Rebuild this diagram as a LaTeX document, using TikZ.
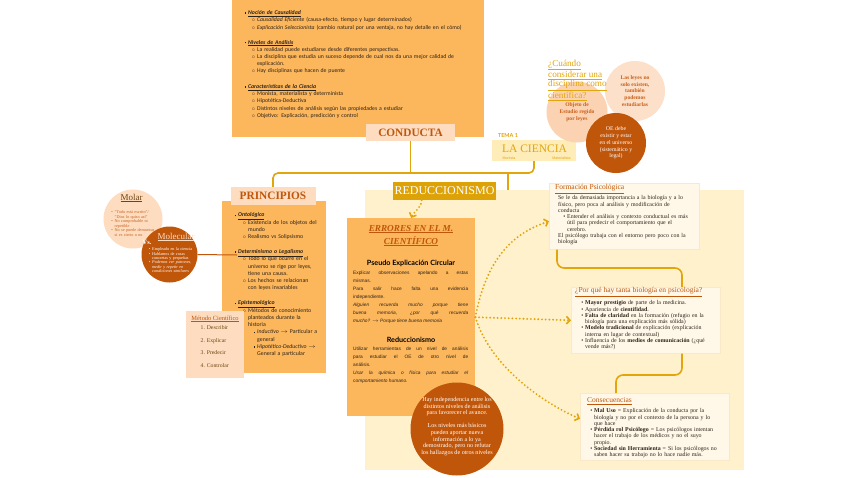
\documentclass[tikz,border=0pt]{standalone}
\usepackage{fontspec}
\setmainfont{Liberation Serif}
\newfontfamily\carl{Carlito}
\newfontfamily\lsans{Liberation Sans}
\newfontfamily\latof{Lato}
\usetikzlibrary{arrows.meta}
\setlength{\parindent}{0pt}
\definecolor{boxor}{RGB}{252,182,92}
\definecolor{peach}{RGB}{253,220,192}
\definecolor{dkor}{RGB}{192,86,10}
\definecolor{palebg}{RGB}{255,241,203}
\definecolor{cream}{RGB}{255,248,233}
\definecolor{creamedge}{RGB}{250,232,200}
\definecolor{gold}{RGB}{226,165,12}
\definecolor{goldfill}{RGB}{221,162,7}
\definecolor{cienfill}{RGB}{254,236,185}
\definecolor{peachA}{RGB}{252,211,178}
\definecolor{peachB}{RGB}{253,224,201}
\definecolor{circtxt}{RGB}{200,96,26}
\definecolor{brownt}{RGB}{110,68,16}
\definecolor{dtext}{RGB}{45,35,25}
\newcommand\itm[3]{\par\leftskip=#1\relax\noindent\llap{#2\hspace{1.8pt}}#3\par}
\newcommand\sqb{\rule[0.6pt]{1.6pt}{1.6pt}}
\newcommand\cirb{$\scriptscriptstyle\circ$}
\newcommand\jl[1]{\makebox[115pt][s]{#1}}
\begin{document}
\begin{tikzpicture}[x=1pt,y=-1pt,
  gline/.style={draw=gold,line width=1.6pt},
  darrow/.style={draw=gold,line width=2.1pt,line cap=round,dash pattern=on 0pt off 3.7pt,-{Straight Barb[length=3.5pt,width=7.5pt,line width=1.6pt]}},
  tagbox/.style={fill=peach,inner sep=0pt,text=dkor,font=\bfseries\fontsize{11.3}{12}\selectfont},
  txt/.style={inner sep=0pt,anchor=north west,align=left},
  panel/.style={inner sep=0pt,anchor=north west},
  creambox/.style={panel,fill=cream,draw=creamedge,line width=0.6pt},
  rtitle/.style={inner sep=0pt,anchor=west,text=dkor,font=\fontsize{7.5}{8}\selectfont},
  rbody/.style={txt,text width=150pt,text=dtext,font=\fontsize{5.9}{6.25}\selectfont},
]
\path[use as bounding box] (0,0) rectangle (848,477);
\fill[white] (0,0) rectangle (848,477);

% ---- top box
\node[panel,fill=boxor,minimum width=252pt,minimum height=137pt] (topbox) at (232,0) {};
\node[txt,text width=240pt,font=\carl\fontsize{5.75}{7.2}\selectfont,text=dtext] (toptext) at (240,7.2) {%
\itm{8pt}{\sqb}{\textbf{\textit{\underline{Noción de Causalidad}}}}
\itm{17pt}{\cirb}{\textit{Causalidad Eficiente} (causa-efecto, tiempo y lugar determinados)}
\itm{17pt}{\cirb}{\textit{Explicación Seleccionista} (cambio natural por una ventaja, no hay detalle en el cómo)}
\vspace{7.8pt}
\itm{8pt}{\sqb}{\textbf{\textit{\underline{Niveles de Análisis}}}}
\itm{17pt}{\cirb}{La realidad puede estudiarse desde diferentes perspectivas.}
\itm{17pt}{\cirb}{La disciplina que estudia un suceso depende de cual nos da una mejor calidad de\\explicación.}
\itm{17pt}{\cirb}{Hay disciplinas que hacen de puente}
\vspace{8.5pt}
\itm{8pt}{\sqb}{\textbf{\textit{\underline{Características de la Ciencia}}}}
\itm{17pt}{\cirb}{Monista, materialista y determinista}
\itm{17pt}{\cirb}{Hipotética-Deductiva}
\itm{17pt}{\cirb}{Distintos niveles de análisis según las propiedades a estudiar}
\itm{17pt}{\cirb}{Objetivo: Explicación, predicción y control}};

% ---- pale background
\node[panel,fill=palebg,minimum width=379pt,minimum height=280pt] (palebg) at (365,190) {};

% ---- principios box
\node[panel,fill=boxor,minimum width=104pt,minimum height=172pt] (princbox) at (222,201) {};
\node[txt,text width=100pt,font=\carl\fontsize{5.8}{7.3}\selectfont,text=dtext] (princtext) at (226,209.2) {%
\itm{12pt}{\sqb}{\textbf{\textit{\underline{Ontológico}}}}
\itm{22pt}{\cirb}{Existencia de los objetos del\\mundo}
\itm{22pt}{\cirb}{Realismo vs Solipsismo}
\vspace{7.5pt}
\itm{12pt}{\sqb}{\textbf{\textit{\underline{Determinismo o Legalismo}}}}
\itm{22pt}{\cirb}{Todo lo que ocurre en el\\universo se rige por leyes,\\tiene una causa.}
\itm{22pt}{\cirb}{Los hechos se relacionan\\con leyes invariables}
\vspace{7.5pt}
\itm{12pt}{\sqb}{\textbf{\textit{\underline{Epistemológico}}}}
\itm{22pt}{\cirb}{Métodos de conocimiento\\planteados durante la\\historia}
\itm{31pt}{\sqb}{\textit{Inductivo} $\rightarrow$ Particular a\\general}
\itm{31pt}{\sqb}{\textit{Hipotético-Deductivo} $\rightarrow$\\General a particular}};

% ---- metodo cientifico
\node[panel,fill=peach,minimum width=58pt,minimum height=67pt] (metodo) at (186,311) {};
\node[inner sep=0,text=dkor,font=\fontsize{6.4}{7}\selectfont] (mettitle) at (215,319) {\underline{Método Científico}};
\node[txt,text=brownt,font=\fontsize{5.7}{12.6}\selectfont] (metitems) at (200.5,325.5) {1. Describir\\2. Explicar\\3. Predecir\\4. Controlar};

% ---- labels
\node[tagbox,minimum width=89pt,minimum height=17pt] (conducta) at (410.5,132.5) {CONDUCTA};
\node[fill=cienfill,inner sep=0,minimum width=84pt,minimum height=21pt] (ciencia) at (534,150.5) {};
\node[inner sep=0,text=gold,font=\fontsize{11.5}{12}\selectfont] (cientxt) at (534.5,149) {LA CIENCIA};
\node[inner sep=0,text=gold,font=\latof\bfseries\fontsize{5.5}{6}\selectfont] (tema) at (508,136) {TEMA 1};
\node[inner sep=0,text=gold,font=\lsans\fontsize{3.6}{4}\selectfont] (monista) at (509,158) {Monista};
\node[inner sep=0,text=gold,font=\lsans\fontsize{3.6}{4}\selectfont] (materialista) at (561.5,158) {Materialista};
\node[tagbox,minimum width=85pt,minimum height=18pt] (principios) at (273,196) {PRINCIPIOS};
\node[fill=goldfill,inner sep=0,minimum width=103pt,minimum height=18pt,text=white,font=\fontsize{12}{12}\selectfont] (reduc) at (444.5,191) {REDUCCIONISMO};

% ---- gold connectors
\coordinate (jL) at (273,173);
\coordinate (jR) at (534,173);
\coordinate (jM) at (508,173);
\coordinate (jC) at (410.5,173);
\draw[gline] (conducta.south) -- (jC);
\draw[gline,rounded corners=5pt] (ciencia.south) -- (jR) -- (jL) -- (principios.north);
\draw[gline] (jM) -- (jM |- palebg.north);

% ---- right cream boxes
\node[creambox,minimum width=150pt,minimum height=66pt] (form) at (549,183) {};
\node[rtitle] (formT) at (555,189) {\underline{Formación Psicológica}};
\node[rbody] (formB) at (558,195.5) {%
Se le da demasiada importancia a la biología y a lo\\físico, pero poca al análisis y modificación de\\conducta
\itm{9pt}{\textbullet}{Entender el análisis y contexto conductual es más\\útil para predecir el comportamiento que el\\cerebro.}
\leftskip=0pt\relax El psicólogo trabaja con el entorno pero poco con la\\biología};

\node[creambox,minimum width=149pt,minimum height=66pt] (porq) at (571,287) {};
\node[rtitle] (porqT) at (575,292) {\underline{¿Por qué hay tanta biología en psicología?}};
\node[rbody] (porqB) at (575,298.5) {%
\itm{10pt}{\textbullet}{\textbf{Mayor prestigio} de parte de la medicina.}
\itm{10pt}{\textbullet}{Apariencia de \textbf{cientifidad}.}
\itm{10pt}{\textbullet}{\textbf{Falta de claridad} en la formación (refugio en la\\biología para una explicación más sólida)}
\itm{10pt}{\textbullet}{\textbf{Modelo tradicional} de explicación (explicación\\interna en lugar de contextual)}
\itm{10pt}{\textbullet}{Influencia de los \textbf{medios de comunicación} (¿qué\\vende más?)}};

\node[creambox,minimum width=149pt,minimum height=67pt] (cons) at (580,393) {};
\node[rtitle] (consT) at (587,401) {\underline{Consecuencias}};
\node[rbody] (consB) at (584,406.5) {%
\itm{10pt}{\textbullet}{\textbf{Mal Uso} = Explicación de la conducta por la\\biología y no por el contexto de la persona y lo\\que hace}
\itm{10pt}{\textbullet}{\textbf{Pérdida rol Psicólogo} = Los psicólogos intentan\\hacer el trabajo de los médicos y no el suyo\\propio.}
\itm{10pt}{\textbullet}{\textbf{Sociedad sin Herramienta} = Si los psicólogos no\\saben hacer su trabajo no lo hace nadie más.}};

\coordinate (f1) at (557,268);
\coordinate (f2) at (682,268);
\coordinate (p1) at (682,375);
\coordinate (p2) at (616,375);
\draw[gline,rounded corners=7pt] (form.south -| f1) -- (f1) -- (f2) -- (porq.north -| f2);
\draw[gline,rounded corners=7pt] (porq.south -| p1) -- (p1) -- (p2) -- (cons.north -| p2);

% ---- errores box
\node[panel,fill=boxor,minimum width=128pt,minimum height=198pt] (errores) at (347,218) {};
\node[align=center,inner sep=0,text=dkor,font=\bfseries\itshape\fontsize{9.2}{13}\selectfont] (errtitle) at (411,235.5) {\underline{ERRORES EN EL M.}\\\underline{CIENTÍFICO}};
\node[inner sep=0,font=\latof\bfseries\fontsize{7.2}{8}\selectfont,text=black] (pseudo) at (411,263) {Pseudo Explicación Circular};
\node[txt,font=\lsans\fontsize{4.8}{8.1}\selectfont,text=dtext] (errbody1) at (353,270.5) {%
\jl{Explicar observaciones apelando a estas}\\mismas.\\
\jl{Para salir hace falta una evidencia}\\independiente.\\
\jl{\itshape Alguien recuerda mucho porque tiene}\\
\jl{\itshape buena memoria, ¿por qué recuerda}\\
{\itshape mucho? $\rightarrow$ Porque tiene buena memoria}};
\node[inner sep=0,font=\latof\bfseries\fontsize{7.2}{8}\selectfont,text=black] (reducT) at (411,340) {Reduccionismo};
\node[txt,font=\lsans\fontsize{4.8}{8.1}\selectfont,text=dtext] (errbody2) at (353,346.5) {%
\jl{Utilizar herramientas de un nivel de análisis}\\
\jl{para estudiar el OE de otro nivel de}\\análisis.\\
\jl{\itshape Usar la química o física para estudiar el}\\
{\itshape comportamiento humano.}};

% ---- bottom circle
\node[circle,fill=dkor,inner sep=0,minimum size=93pt] (bcirc) at (457,429) {};
\node[align=center,inner sep=0,text=white,font=\fontsize{6.1}{6.6}\selectfont] (bctext) at (457,426.5) {Hay independencia entre los\\distintos niveles de análisis\\para favorecer el avance.\\[6.3pt]Los niveles más básicos\\pueden aportar nueva\\información a lo ya\\demostrado, pero no refutar\\los hallazgos de otros niveles};

% ---- dotted arrows
\draw[darrow] ([xshift=-23pt]reduc.south) .. controls +(0,8) and +(3,-7) .. (errores.north);
\draw[darrow] (errores.east) .. controls +(12,-65) and +(-30,10) .. ([yshift=-5pt]form.west);
\draw[darrow] (errores.east) -- (porq.west);
\draw[darrow] (errores.east) .. controls +(15,50) and +(-35,-15) .. ([yshift=8pt]cons.west);

% ---- molar / molecular
\node[circle,fill=peach,inner sep=0,minimum size=59pt] (molar) at (133,219) {};
\node[inner sep=0,text=brownt,font=\fontsize{9}{10}\selectfont] (molarT) at (131.5,198) {\underline{Molar}};
\node[txt,text width=50pt,text=circtxt,font=\fontsize{4.2}{4.5}\selectfont] (molarB) at (114.5,209) {%
\itm{0pt}{\textbullet}{"Todo está escrito"/\\"Dios lo quiso así"}
\itm{0pt}{\textbullet}{No comprobable ni\\repetible}
\itm{0pt}{\textbullet}{No se puede demostrar\\si es cierto o no}};
\node[circle,fill=dkor,inner sep=0,minimum size=56pt] (molec) at (169.5,254.5) {};
\node[inner sep=0,text=peach,font=\fontsize{9}{10}\selectfont] (molecT) at (176,237) {\underline{Molecular}};
\node[inner sep=0,text=white,font=\bfseries\fontsize{6.5}{7}\selectfont] (vs) at (147,242) {Vs.};
\node[txt,text width=45pt,text=white,font=\fontsize{4.2}{4.4}\selectfont] (molecB) at (152,246) {%
\itm{0pt}{\textbullet}{Empleado en la ciencia}
\itm{0pt}{\textbullet}{Hablamos de cosas\\concretas y pequeñas}
\itm{0pt}{\textbullet}{\textit{Podemos ver patrones,\\medir y repetir en\\condiciones similares}}};
\coordinate (linkend) at (237,255);
\draw[dkor,line width=1pt] (molec.east) -- (linkend);

% ---- top right circles
\node[circle,fill=peachA,inner sep=0,minimum size=61pt,align=center,text=circtxt,font=\bfseries\fontsize{5.6}{7}\selectfont] (c1) at (577,112) {Objeto de\\Estudio regido\\por leyes};
\node[circle,fill=peachB,inner sep=0,minimum size=60pt,align=center,text=circtxt,font=\bfseries\fontsize{5.6}{6.8}\selectfont] (c2) at (635,91) {Las leyes no\\solo existen,\\también\\podemos\\estudiarlas};
\node[circle,fill=dkor,inner sep=0,minimum size=60pt,align=center,text=white,font=\fontsize{5.8}{6.8}\selectfont] (c3) at (616,143) {OE debe\\existir y estar\\en el universo\\(sistemático y\\legal)};
\node[txt,text=gold,font=\fontsize{9.2}{9.4}\selectfont] (qtitle) at (548,59.5) {\underline{¿Cuándo}\\\underline{considerar una}\\\underline{disciplina como}\\\underline{científica?}};
\end{tikzpicture}
\end{document}
